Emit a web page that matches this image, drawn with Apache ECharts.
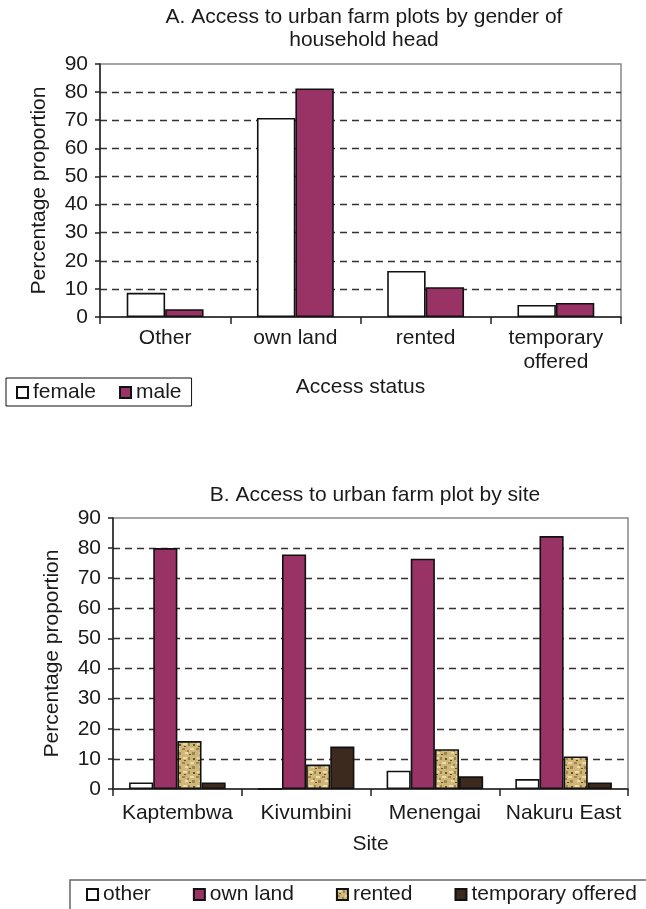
<!DOCTYPE html>
<html>
<head>
<meta charset="utf-8">
<script src="https://cdn.jsdelivr.net/npm/echarts@6/dist/echarts.min.js"></script>
<style>
html,body{margin:0;padding:0;background:#fff;}
#chart{width:646px;height:909px;}
</style>
</head>
<body>
<div id="chart"></div>
<script>
// ---- Data ----
var categoriesA = ['Other', 'own land', 'rented', 'temporary\noffered'];
var femaleA = [8.6, 70.8, 16.4, 4.3];
var maleA = [2.8, 81.3, 10.6, 5.0];

var categoriesB = ['Kaptembwa', 'Kivumbini', 'Menengai', 'Nakuru East'];
var otherB = [2.2, 0, 6.1, 3.3];
var ownLandB = [80, 77.9, 76.5, 84];
var rentedB = [15.9, 8.1, 13.2, 10.8];
var temporaryB = [2.2, 14.1, 4.2, 2.2];

var yTicks = [0, 10, 20, 30, 40, 50, 60, 70, 80, 90];

// ---- Texture for "rented" ----
function makeRentedPattern() {
  var c = document.createElement('canvas');
  c.width = 14; c.height = 14;
  var g = c.getContext('2d');
  g.fillStyle = '#cfb679'; g.fillRect(0, 0, 14, 14);
  g.fillStyle = '#eadbad';
  g.fillRect(1, 1, 4, 2); g.fillRect(8, 6, 4, 2); g.fillRect(3, 10, 3, 2);
  g.fillStyle = '#a3854b';
  g.fillRect(6, 1, 2, 3); g.fillRect(0, 6, 3, 2); g.fillRect(10, 10, 3, 3); g.fillRect(5, 8, 2, 2);
  g.fillStyle = '#6b4f27';
  g.fillRect(11, 2, 2, 2); g.fillRect(2, 4, 2, 1); g.fillRect(7, 12, 2, 1);
  return c;
}
var rentedColor = { image: makeRentedPattern(), repeat: 'repeat' };

var font = 'Liberation Sans, Arial, sans-serif';
var txt = '#1a1a1a';
var FS = 21;
var splitColors = yTicks.map(function (v, i) { return (i === 0 || i === yTicks.length - 1) ? 'rgba(0,0,0,0)' : '#333'; });

function yAxisCfg(idx) {
  return {
    type: 'value', gridIndex: idx, min: 0, max: 90, interval: 10,
    name: 'Percentage proportion', nameLocation: 'middle', nameRotate: 90, nameGap: 50,
    nameTextStyle: { fontFamily: font, fontSize: FS, color: txt },
    axisLine: { show: true, lineStyle: { color: '#222', width: 1.5 } },
    axisTick: { show: true, length: 5, lineStyle: { color: '#222', width: 1.5 } },
    axisLabel: { fontFamily: font, fontSize: FS, color: txt, margin: 12 },
    splitLine: { show: true, lineStyle: { color: splitColors, type: [7, 5], width: 1.3 } }
  };
}
function xAxisCfg(idx, data, name, gap, margin) {
  return {
    type: 'category', gridIndex: idx, data: data,
    name: name, nameLocation: 'middle', nameGap: gap,
    nameTextStyle: { fontFamily: font, fontSize: FS, color: txt },
    axisLine: { show: true, lineStyle: { color: '#222', width: 1.5 } },
    axisTick: { show: true, length: 7, lineStyle: { color: '#222', width: 1.5 } },
    axisLabel: { fontFamily: font, fontSize: FS, color: txt, margin: margin, lineHeight: 23.5, interval: 0 }
  };
}
function barSeries(name, data, color, xi, gapCat) {
  return {
    type: 'bar', name: name, data: data, xAxisIndex: xi, yAxisIndex: xi,
    barGap: '0%', barCategoryGap: gapCat,
    itemStyle: { color: color, borderColor: '#111', borderWidth: 1.6 },
    emphasis: { disabled: true }, animation: false
  };
}

var chart = echarts.init(document.getElementById('chart'), null, { renderer: 'canvas' });
chart.setOption({
  animation: false,
  backgroundColor: '#fff',
  graphic: [
    { type: 'text', x: 364, y: 5.5, style: { text: 'A. Access to urban farm plots by gender of\nhousehold head', fontFamily: font, fontSize: FS, lineHeight: 23.4, fill: txt, align: 'center' } },
    { type: 'text', x: 375, y: 483.5, style: { text: 'B. Access to urban farm plot by site', fontFamily: font, fontSize: FS, lineHeight: 23, fill: txt, align: 'center' } },
    { type: 'rect', shape: { x: 70, y: 880, width: 700, height: 100 }, style: { fill: 'none', stroke: '#666', lineWidth: 1.5 }, z: 0 }
  ],
  grid: [
    { left: 100, top: 64, width: 521, height: 253, show: true, borderColor: '#888', borderWidth: 1.5, containLabel: false },
    { left: 113, top: 518, width: 515, height: 271, show: true, borderColor: '#888', borderWidth: 1.5, containLabel: false }
  ],
  xAxis: [
    xAxisCfg(0, categoriesA, 'Access status', 60, 9.5),
    xAxisCfg(1, categoriesB, 'Site', 45, 12.5)
  ],
  yAxis: [yAxisCfg(0), yAxisCfg(1)],
  legend: [
    {
      data: ['female', 'male'], left: 6, top: 378, orient: 'horizontal',
      itemWidth: 11, itemHeight: 11, itemGap: 23, icon: 'rect',
      textStyle: { fontFamily: font, fontSize: FS, color: txt },
      borderColor: '#111', borderWidth: 1, padding: [4, 10, 3, 10], selectedMode: false
    },
    {
      data: ['other', 'own land', 'rented', 'temporary offered'], left: 86, top: 884, width: 600, orient: 'horizontal',
      itemWidth: 11, itemHeight: 11, itemGap: 42, icon: 'rect',
      textStyle: { fontFamily: font, fontSize: FS, color: txt },
      padding: 0, selectedMode: false
    }
  ],
  series: [
    barSeries('female', femaleA, '#ffffff', 0, '41%'),
    barSeries('male', maleA, '#993366', 0, '41%'),
    barSeries('other', otherB, '#ffffff', 1, '25%'),
    barSeries('own land', ownLandB, '#993366', 1, '25%'),
    barSeries('rented', rentedB, rentedColor, 1, '25%'),
    barSeries('temporary offered', temporaryB, '#3b2a1d', 1, '25%')
  ]
});
</script>
</body>
</html>
